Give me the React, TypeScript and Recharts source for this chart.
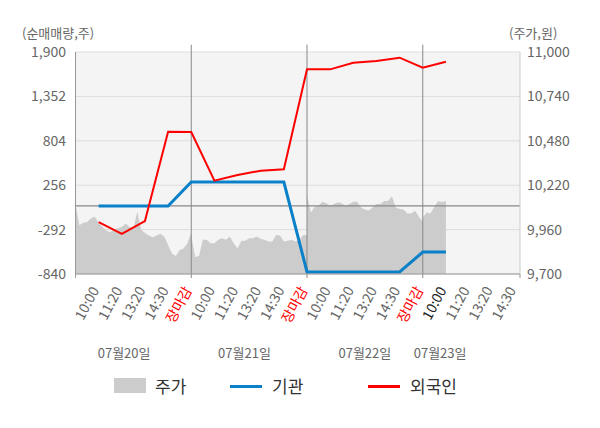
import React from 'react'
import { ComposedChart, Area, Line, XAxis, YAxis, CartesianGrid, ReferenceLine } from 'recharts'

const timeLabels: string[] = [
  '10:00', '11:20', '13:20', '14:30', '장마감',
  '10:00', '11:20', '13:20', '14:30', '장마감',
  '10:00', '11:20', '13:20', '14:30', '장마감',
  '10:00', '11:20', '13:20', '14:30',
]
const dateLabels: string[] = ['07월20일', '07월21일', '07월22일', '07월23일']

const leftTicks: number[] = [-840, -292, 256, 804, 1352, 1900]
const rightTicks: number[] = [9700, 9960, 10220, 10480, 10740, 11000]

// net buying (주), one value per time slot, slot 1..16
const institution: number[] = [0, 0, 0, 0, 295, 295, 295, 295, 295, -815, -815, -815, -815, -815, -570, -570]
const foreign: number[] = [-200, -346, -186, 916, 913, 312, 382, 435, 452, 1686, 1686, 1768, 1789, 1830, 1706, 1780]

// price (원), 30 steps per trading day
const priceDay1: number[] = [
  10110, 9985, 10000, 10005, 10025, 10035, 10000, 9975, 9955, 9945, 9962,
  9968, 9975, 9995, 9975, 9962, 10065, 9960, 9940, 9925, 9915,
  9925, 9935, 9920, 9870, 9820, 9805, 9840, 9850, 9880, 9945,
]
const priceDay2: number[] = [
  9925, 9800, 9805, 9900, 9900, 9880, 9880, 9900, 9910, 9900, 9920,
  9880, 9850, 9895, 9895, 9910, 9910, 9920, 9905, 9900, 9890,
  9890, 9928, 9925, 9890, 9895, 9900, 9890, 9900, 9928, 9928,
]
const priceDay3: number[] = [
  10160, 10060, 10094, 10100, 10123, 10115, 10100, 10110, 10120, 10115, 10100,
  10110, 10123, 10123, 10090, 10078, 10072, 10090, 10110, 10110, 10128,
  10128, 10155, 10090, 10080, 10078, 10055, 10055, 10070, 10035, 10006,
]
const priceDay4: number[] = [10030, 10060, 10055, 10094, 10127, 10122, 10127]

const SLOTS_PER_DAY = 5
const STEPS_PER_DAY = 30
const X_MAX = 19.2
const PLOT_LEFT = 75.5
const PLOT_RIGHT = 520
const datePos = [2.1, 7.3, 12.5, 15.75]

const priceData = [priceDay1, priceDay2, priceDay3, priceDay4].flatMap((day, d) =>
  day.map((price, k) => ({ x: d * SLOTS_PER_DAY + (k * SLOTS_PER_DAY) / STEPS_PER_DAY, price }))
)
const flowData = institution.map((v, i) => ({ x: i + 1, institution: v, foreign: foreign[i] }))

const fmt = (v: number) => v.toLocaleString('en-US')
const toPx = (v: number) => PLOT_LEFT + (v / X_MAX) * (PLOT_RIGHT - PLOT_LEFT)

const TimeTick = (props: any) => {
  const { x, y, payload } = props
  const label = timeLabels[payload.value - 1]
  const color = label === '장마감' ? '#ff0000' : payload.value === 16 ? '#222' : '#666'
  const ax = x + 1
  const ay = y + 16
  return (
    <text x={ax} y={ay} transform={`rotate(-62, ${ax}, ${ay})`} textAnchor="end" fill={color} fontSize={14}>
      {label}
    </text>
  )
}

const font = "'Noto Sans CJK KR', 'Noto Sans', sans-serif"

export default function App() {
  return (
    <div style={{ position: 'fixed', top: 0, left: 0, width: 600, height: 428, fontFamily: font, background: '#fff' }}>
      <ComposedChart width={600} height={428} margin={{ top: 52, right: 0, left: 0, bottom: 64 }} style={{ fontFamily: font }}>
        <CartesianGrid xAxisId="time" yAxisId="left" vertical={false} stroke="#ddd" fill="#f4f4f4" />
        <XAxis
          xAxisId="time"
          dataKey="x"
          type="number"
          domain={[0, X_MAX]}
          ticks={timeLabels.map((_, i) => i + 1)}
          interval={0}
          height={90}
          tickSize={0}
          tickMargin={0}
          tickLine={false}
          axisLine={{ stroke: '#999' }}
          tick={<TimeTick />}
          allowDataOverflow
        />
        <YAxis
          yAxisId="left"
          orientation="left"
          width={75.5}
          domain={[-840, 1900]}
          ticks={leftTicks}
          interval={0}
          tickFormatter={fmt}
          tickLine={false}
          tickMargin={3.5}
          axisLine={{ stroke: '#999' }}
          tick={{ fill: '#666', fontSize: 14 }}
        />
        <YAxis
          yAxisId="right"
          orientation="right"
          width={80}
          domain={[9700, 11000]}
          ticks={rightTicks}
          interval={0}
          tickFormatter={fmt}
          tickLine={false}
          tickMargin={1}
          axisLine={{ stroke: '#ccc' }}
          tick={{ fill: '#666', fontSize: 14, textAnchor: 'start' }}
        />
        <Area
          xAxisId="time"
          yAxisId="right"
          data={priceData}
          dataKey="price"
          type="linear"
          stroke="none"
          fill="#cccccc"
          fillOpacity={1}
          isAnimationActive={false}
        />
        <ReferenceLine xAxisId="time" yAxisId="left" y={0} stroke="#888" strokeWidth={1.2} />
        {[5, 10, 15].map((d) => (
          <ReferenceLine
            key={d}
            xAxisId="time"
            yAxisId="left"
            segment={[{ x: d, y: -890 }, { x: d, y: 1990 }]}
            ifOverflow="visible"
            stroke="#888"
          />
        ))}
        {[0, X_MAX].map((d) => (
          <ReferenceLine
            key={'t' + d}
            xAxisId="time"
            yAxisId="left"
            segment={[{ x: d, y: -890 }, { x: d, y: -840 }]}
            ifOverflow="visible"
            stroke="#999"
          />
        ))}
        <Line
          xAxisId="time"
          yAxisId="left"
          data={flowData}
          dataKey="institution"
          type="linear"
          stroke="#0a80c9"
          strokeWidth={3}
          dot={false}
          isAnimationActive={false}
        />
        <Line
          xAxisId="time"
          yAxisId="left"
          data={flowData}
          dataKey="foreign"
          type="linear"
          stroke="#ff0000"
          strokeWidth={2}
          dot={false}
          isAnimationActive={false}
        />
      </ComposedChart>

      <div style={{ position: 'absolute', left: 22, top: 24, fontSize: 13, lineHeight: '18px', color: '#666' }}>(순매매량,주)</div>
      <div style={{ position: 'absolute', left: 509, top: 24, fontSize: 13, lineHeight: '18px', color: '#666' }}>(주가,원)</div>

      {dateLabels.map((d, i) => (
        <div
          key={d}
          style={{
            position: 'absolute', left: toPx(datePos[i]), top: 343, transform: 'translateX(-50%)',
            fontSize: 13, lineHeight: '20px', color: '#666', whiteSpace: 'nowrap',
          }}
        >
          {d}
        </div>
      ))}

      <div style={{ position: 'absolute', left: 114, top: 378, width: 32, height: 15, background: '#cccccc' }} />
      <div style={{ position: 'absolute', left: 155, top: 375, fontSize: 17, lineHeight: '22px', color: '#333' }}>주가</div>
      <div style={{ position: 'absolute', left: 230, top: 385, width: 32, height: 3, background: '#0a80c9' }} />
      <div style={{ position: 'absolute', left: 272, top: 375, fontSize: 17, lineHeight: '22px', color: '#333' }}>기관</div>
      <div style={{ position: 'absolute', left: 368, top: 385, width: 32, height: 3, background: '#ff0000' }} />
      <div style={{ position: 'absolute', left: 410, top: 375, fontSize: 17, lineHeight: '22px', color: '#333' }}>외국인</div>
    </div>
  )
}
